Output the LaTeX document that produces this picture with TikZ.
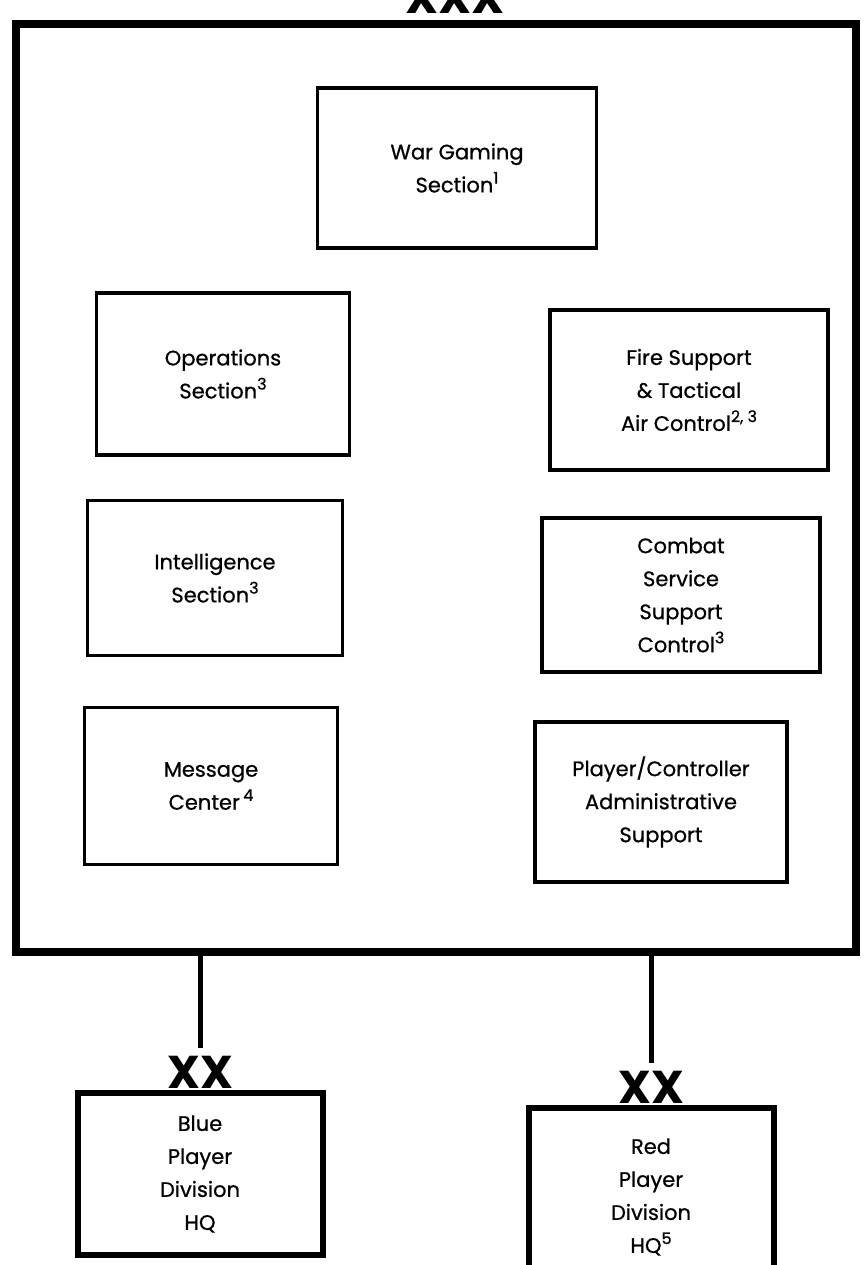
\documentclass[tikz,border=0pt]{standalone}
\usepackage{fontspec}
\setmainfont{Poppins}
\newfontfamily\boxfont{Poppins}[FakeBold=0.7]
% footnote numbers set a little smaller and raised
\newcommand\notemark[1]{\raisebox{0.42em}{\fontsize{16}{16}\selectfont #1}}
\begin{document}
\begin{tikzpicture}[x=1pt,y=-1pt,
  section/.style={draw,line width=3.5pt,minimum width=#1,inner sep=0pt,
    font=\boxfont\fontsize{21}{33}\selectfont,align=center},
  division/.style={draw,line width=6pt,minimum width=245pt,inner sep=0pt,
    font=\boxfont\fontsize{21}{33}\selectfont,align=center},
  echelon/.style={font=\fontsize{46}{46}\bfseries\selectfont,inner sep=0pt},
  link/.style={line width=5pt}]
\useasboundingbox (0,0) rectangle (867,1265);

% corps headquarters frame and its echelon mark
\node[echelon,anchor=south] (corps) at (455,14) {XXX};
\draw[line width=7.5pt] (16,24) rectangle (856,952);
\coordinate (frameL) at (200,952);
\coordinate (frameR) at (651,952);

% sections inside the frame
\node[section=279pt,minimum height=160pt] (war) at (457,168)
  {War Gaming\\Section\notemark{1}};
\node[section=253pt,minimum height=162pt] (ops) at (223,374)
  {Operations\\Section\notemark{3}};
\node[section=278pt,minimum height=160pt] (fire) at (689,390)
  {Fire Support\\\& Tactical\\Air Control\notemark{2, 3}};
\node[section=255pt,minimum height=155pt] (intel) at (215,578)
  {Intelligence\\Section\notemark{3}};
\node[section=278pt,minimum height=154pt] (css) at (681,595)
  {Combat\\Service\\Support\\Control\notemark{3}};
\node[section=253pt,minimum height=157pt] (msg) at (211,786)
  {Message\\Center\,\notemark{4}};
\node[section=252pt,minimum height=160pt] (admin) at (661,802)
  {Player/Controller\\Administrative\\Support};

% player division headquarters
\node[division,minimum height=162pt] (blue) at (200,1174)
  {Blue\\Player\\Division\\HQ};
\node[division,minimum height=178pt] (red) at (651,1197)
  {Red\\Player\\Division\\HQ\notemark{5}};
\node[echelon,anchor=south] (blueXX) at ([yshift=1pt]blue.north) {XX};
\node[echelon,anchor=south] (redXX) at ([yshift=1pt]red.north) {XX};

% links from the frame to the divisions
\draw[link] (frameL) -- ([yshift=8pt]blueXX.north);
\draw[link] (frameR) -- ([yshift=8pt]redXX.north);
\end{tikzpicture}
\end{document}
